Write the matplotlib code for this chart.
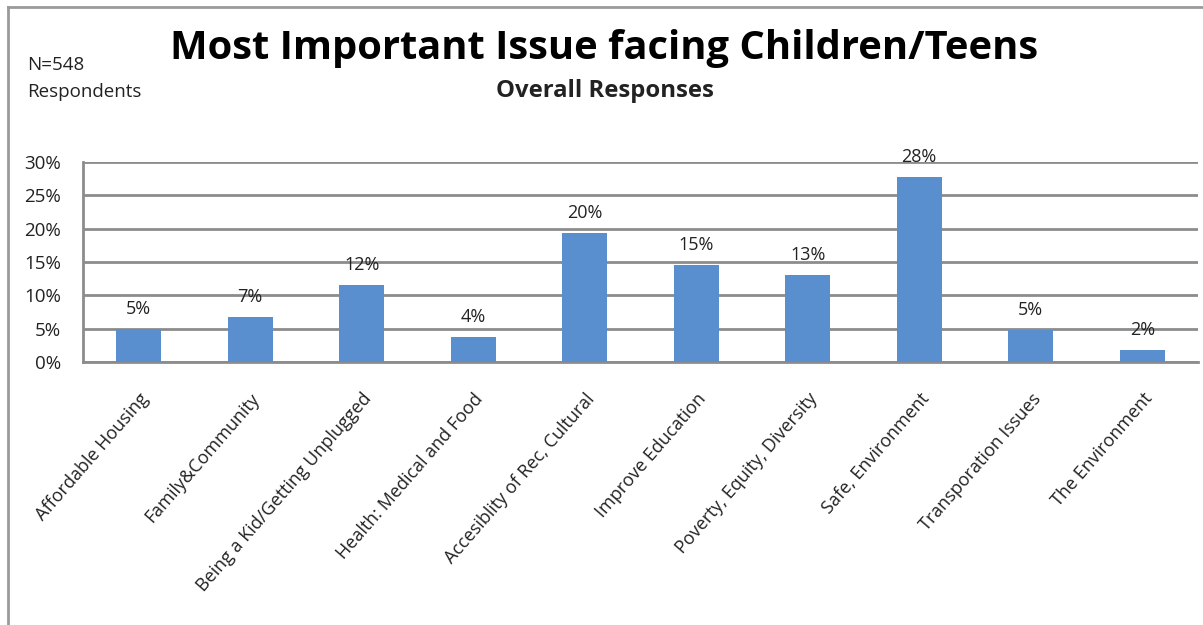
import matplotlib
matplotlib.use("Agg")
import matplotlib.pyplot as plt
from matplotlib.lines import Line2D

matplotlib.rcParams['font.family'] = ["Open Sans", "DejaVu Sans"]

categories = ["Affordable Housing", "Family&Community", "Being a Kid/Getting Unplugged",
              "Health: Medical and Food", "Accesiblity of Rec, Cultural", "Improve Education",
              "Poverty, Equity, Diversity", "Safe, Environment", "Transporation Issues",
              "The Environment"]
values = [4.9, 6.8, 11.6, 3.8, 19.4, 14.6, 13.0, 27.8, 4.8, 1.8]
labels = ["5%", "7%", "12%", "4%", "20%", "15%", "13%", "28%", "5%", "2%"]
yticks = [0, 5, 10, 15, 20, 25, 30]

bar_color = "#5A8FCF"
grid_color = "#8C8C8C"

fig = plt.figure(figsize=(12.03, 6.25), dpi=100)

# outer frame (top and left only, like the screenshot)
fig.add_artist(Line2D([8 / 1203, 1], [1 - 7 / 625, 1 - 7 / 625], color="#9A9A9A", lw=2))
fig.add_artist(Line2D([8 / 1203, 8 / 1203], [0, 1 - 7 / 625], color="#9A9A9A", lw=2))

ax = fig.add_axes([83 / 1203, 1 - 362 / 625, (1198 - 83) / 1203, 200 / 625])
x = list(range(len(categories)))
ax.bar(x, values, width=0.4, color=bar_color, zorder=3)

for xi, v, lab in zip(x, values, labels):
    ax.annotate(lab, (xi, v), xytext=(0, 8), textcoords="offset points",
                ha="center", va="bottom", fontsize=13, color="#222222", zorder=4)

ax.set_xlim(-0.5, len(categories) - 0.5)
ax.set_ylim(0, 30)
ax.set_yticks(yticks)
ax.set_yticklabels([f"{t}%" for t in yticks], fontsize=13.5, color="#222222")
ax.yaxis.grid(True, color=grid_color, lw=2, zorder=0)
ax.set_axisbelow(True)
ax.tick_params(axis="y", length=0, pad=16)
ax.tick_params(axis="x", length=0, pad=20)
ax.set_xticks(x)
ax.set_xticklabels(categories, rotation=49, ha="right", rotation_mode="anchor",
                   fontsize=13, color="#222222")
for side in ["top", "right"]:
    ax.spines[side].set_visible(False)
ax.spines["left"].set_color(grid_color)
ax.spines["left"].set_linewidth(2)
ax.spines["bottom"].set_color(grid_color)
ax.spines["bottom"].set_linewidth(2)

fig.text(0.5025, 1 - 48 / 625, "Most Important Issue facing Children/Teens",
         ha="center", va="center", fontsize=28.7, fontweight="bold", color="black")
fig.text(0.5025, 1 - 91 / 625, "Overall Responses",
         ha="center", va="center", fontsize=17.2, fontweight="bold", color="#222222")
fig.text(27 / 1203, 1 - 65 / 625, "N=548", ha="left", va="center", fontsize=13.5, color="#222222")
fig.text(27 / 1203, 1 - 92 / 625, "Respondents", ha="left", va="center", fontsize=13.5, color="#222222")

fig.savefig("out.png", dpi=100)
